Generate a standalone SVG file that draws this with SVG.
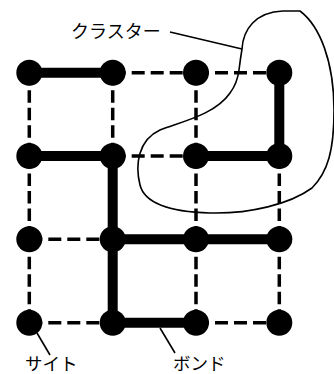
<svg xmlns="http://www.w3.org/2000/svg" width="334" height="374" viewBox="0 0 334 374">
<style>
.bond{stroke:#000;stroke-width:10;fill:none}
.dh{stroke:#000;stroke-width:3.5;stroke-dasharray:13 6;fill:none}
.dv{stroke:#000;stroke-width:3.5;stroke-dasharray:12.5 5;fill:none}
.lead{stroke:#000;stroke-width:1.6;fill:none}
.site{fill:#000}
text{font-family:"Noto Sans CJK JP","Noto Sans",sans-serif;font-size:18px;fill:#000}
.low{font-size:17.5px}
</style>
<rect width="334" height="374" fill="#fff"/>
<g id="connectors">
  <path class="dh" d="M112.7 72.7H196M196 72.7H279.3M112.7 156H196M29.3 239.3H112.7M29.3 322.7H112.7M196 322.7H279.3"/>
  <path class="dv" d="M29.3 72.7V156M29.3 156V239.3M29.3 239.3V322.7M112.7 72.7V156M196 72.7V156M196 156V239.3M196 239.3V322.7M279.3 156V239.3M279.3 239.3V322.7"/>
  <path class="bond" d="M29.3 72.7H112.7M29.3 156H112.7M196 156H279.3M279.3 72.7V156M112.7 156V322.7M112.7 239.3H279.3M112.7 322.7H196"/>
</g>
<g id="cluster">
  <path class="lead" d="M242 49C243 30 255 12 283 11L300 11C320 26 334 62 334 110C334 150 328 172 312 188C290 204 250 214 210 213C175 212 145 205 140 185C135 165 138 140 160 130C180 122 215 115 230 93C236 85 238 78 239 70C240 62 241 55 242 49Z"/>
</g>
<g id="label-cluster">
  <line class="lead" x1="170" y1="32" x2="242" y2="49"/>
  <text x="71" y="38">クラスター</text>
</g>
<g id="sites">
  <circle class="site" cx="29.3" cy="72.7" r="13"/>
  <circle class="site" cx="112.7" cy="72.7" r="13"/>
  <circle class="site" cx="196" cy="72.7" r="13"/>
  <circle class="site" cx="279.3" cy="72.7" r="13"/>
  <circle class="site" cx="29.3" cy="156" r="13"/>
  <circle class="site" cx="112.7" cy="156" r="13"/>
  <circle class="site" cx="196" cy="156" r="13"/>
  <circle class="site" cx="279.3" cy="156" r="13"/>
  <circle class="site" cx="29.3" cy="239.3" r="13"/>
  <circle class="site" cx="112.7" cy="239.3" r="13"/>
  <circle class="site" cx="196" cy="239.3" r="13"/>
  <circle class="site" cx="279.3" cy="239.3" r="13"/>
  <circle class="site" cx="29.3" cy="322.7" r="13"/>
  <circle class="site" cx="112.7" cy="322.7" r="13"/>
  <circle class="site" cx="196" cy="322.7" r="13"/>
  <circle class="site" cx="279.3" cy="322.7" r="13"/>
</g>
<g id="label-site">
  <line class="lead" x1="37" y1="333" x2="50" y2="355"/>
  <text class="low" x="25" y="369.5">サイト</text>
</g>
<g id="label-bond">
  <line class="lead" x1="160" y1="328" x2="175" y2="353"/>
  <text class="low" x="173" y="369.5">ボンド</text>
</g>
</svg>
